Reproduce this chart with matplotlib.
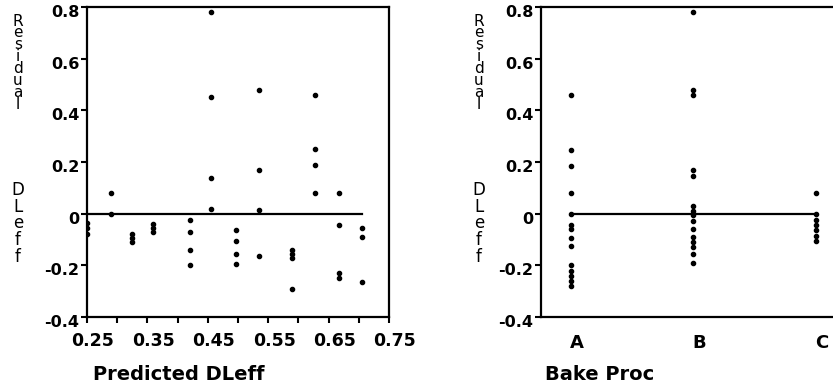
import matplotlib.pyplot as plt
import matplotlib.transforms as mtransforms

# left panel: residual vs predicted DLeff
pred_left = [0.25, 0.25, 0.25,
             0.29, 0.29,
             0.325, 0.325, 0.325,
             0.36, 0.36, 0.36,
             0.42, 0.42, 0.42, 0.42,
             0.455, 0.455, 0.455, 0.455,
             0.497, 0.497, 0.497, 0.497,
             0.535, 0.535, 0.535, 0.535,
             0.59, 0.59, 0.59, 0.59,
             0.627, 0.627, 0.627, 0.627,
             0.667, 0.667, 0.667, 0.667,
             0.706, 0.706, 0.706]
resid_left = [-0.035, -0.055, -0.08,
              0.08, 0.0,
              -0.08, -0.095, -0.11,
              -0.04, -0.055, -0.07,
              -0.025, -0.07, -0.14, -0.20,
              0.78, 0.45, 0.14, 0.02,
              -0.065, -0.105, -0.155, -0.195,
              0.48, 0.17, 0.015, -0.165,
              -0.14, -0.155, -0.17, -0.29,
              0.46, 0.25, 0.19, 0.08,
              0.08, -0.045, -0.23, -0.25,
              -0.055, -0.09, -0.265]

# right panel: residual by bake process
bake_procs = ['A', 'B', 'C']
resid_A = [0.46, 0.245, 0.185, 0.08, 0.0, -0.045, -0.06, -0.095, -0.125,
           -0.20, -0.22, -0.24, -0.26, -0.28]
resid_B = [0.78, 0.48, 0.46, 0.17, 0.145, 0.03, 0.01, -0.005, -0.03, -0.06,
           -0.09, -0.11, -0.13, -0.155, -0.19]
resid_C = [0.08, 0.0, -0.025, -0.045, -0.065, -0.085, -0.105]

xtick_major = [0.25, 0.35, 0.45, 0.55, 0.65, 0.75]
xtick_labels = ['0.25', '0.35', '0.45', '0.55', '0.65', '0.75']
xtick_minor = [0.30, 0.40, 0.50, 0.60, 0.70]
ytick_vals = [0.8, 0.6, 0.4, 0.2, 0.0, -0.2, -0.4]
ytick_labels = ['0.8', '0.6', '0.4', '0.2', '0', '-0.2', '-0.4']

W, H = 833, 391
fig = plt.figure(figsize=(W / 100, H / 100), dpi=100)
fig.patch.set_facecolor('white')

ax1 = fig.add_axes([87 / W, 1 - 317 / H, 302 / W, 310 / H])
ax2 = fig.add_axes([541 / W, 1 - 317 / H, 302 / W, 310 / H])


def style_axes(ax):
    for sp in ax.spines.values():
        sp.set_linewidth(1.6)
    ax.set_ylim(-0.4, 0.8)
    ax.set_yticks(ytick_vals)
    ax.set_yticklabels(ytick_labels, fontsize=11.5, fontweight='bold')
    ax.tick_params(axis='y', direction='out', length=4.5, width=1.5, pad=1)
    # labels sit a bit lower than their ticks in the original
    shift = mtransforms.ScaledTranslation(0, -0.04, fig.dpi_scale_trans)
    for lbl in ax.get_yticklabels():
        lbl.set_transform(lbl.get_transform() + shift)


def stacked_label(x_px, word, y0_px, step_px, size):
    # one letter under the other, like the vertical label of the original
    for i, ch in enumerate(word):
        fig.text(x_px / W, 1 - (y0_px + i * step_px) / H, ch,
                 ha='center', va='center', fontsize=size)


# ---- left panel
ax1.plot(pred_left, resid_left, 'ko', ms=3)
ax1.plot([min(pred_left), max(pred_left)], [0, 0], 'k-', lw=1.6)
ax1.set_xlim(0.25, 0.75)
style_axes(ax1)
ax1.set_xticks(xtick_major)
ax1.set_xticklabels(xtick_labels, fontsize=12.5, fontweight='bold')
ax1.set_xticks(xtick_minor, minor=True)
ax1.tick_params(axis='x', which='both', direction='out', length=4.5,
                width=1.5, pad=6)
shift_x = mtransforms.ScaledTranslation(0.06, 0, fig.dpi_scale_trans)
for lbl in ax1.get_xticklabels():
    lbl.set_transform(lbl.get_transform() + shift_x)
ax1.set_xlabel('Predicted DLeff', loc='left', fontsize=14, fontweight='bold')
ax1.xaxis.label.set_va('center')
ax1.xaxis.set_label_coords(0.02, -0.184)

# ---- right panel
ax2.plot(['A'] * len(resid_A), resid_A, 'ko', ms=3)
ax2.plot(['B'] * len(resid_B), resid_B, 'ko', ms=3)
ax2.plot(['C'] * len(resid_C), resid_C, 'ko', ms=3)
ax2.plot([bake_procs[0], bake_procs[-1]], [0, 0], 'k-', lw=1.6)
ax2.set_xlim(-0.245, 2.224)
style_axes(ax2)
ax2.set_xticks(range(len(bake_procs)))
ax2.set_xticklabels(bake_procs, fontsize=13, fontweight='bold')
ax2.tick_params(axis='x', length=0, pad=12)
for lbl in ax2.get_xticklabels():
    lbl.set_transform(lbl.get_transform() + shift_x)
ax2.set_xlabel('Bake Proc', loc='left', fontsize=14, fontweight='bold')
ax2.xaxis.label.set_va('center')
ax2.xaxis.set_label_coords(0.014, -0.184)

# stacked y labels
for xp in (18, 479):
    stacked_label(xp, 'Residual', 21, 11.9, 11)
    stacked_label(xp, 'DLeff', 190, 16.7, 12)

fig.savefig('out.png', dpi=100)
